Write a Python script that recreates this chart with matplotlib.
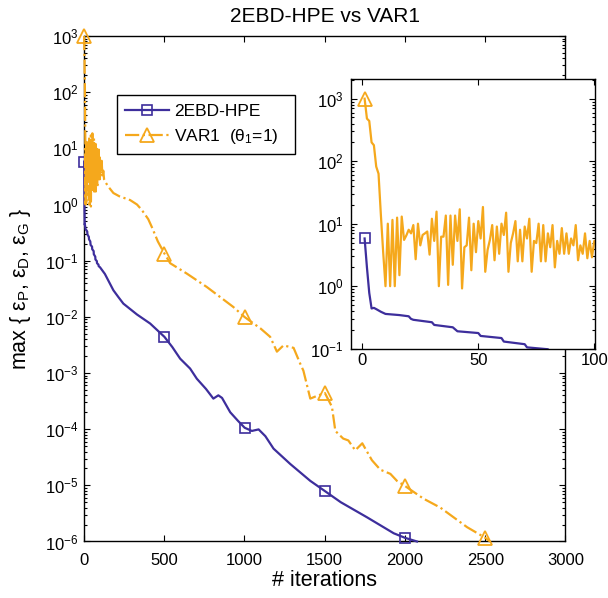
import numpy as np
import matplotlib
matplotlib.use("Agg")
import matplotlib.pyplot as plt
from matplotlib.ticker import LogLocator, NullFormatter, FixedLocator

plt.rcParams['font.family'] = ['Liberation Sans', 'DejaVu Sans']
plt.rcParams['mathtext.fontset'] = 'custom'
plt.rcParams['mathtext.rm'] = 'Liberation Sans'
plt.rcParams['mathtext.it'] = 'Liberation Sans'
plt.rcParams['mathtext.default'] = 'rm'

# --- data ------------------------------------------------------------------
# VAR1 (theta_1 = 1), one value per iteration for the first 100 iterations
var1_early = [1000, 480, 440, 200, 180, 82, 63, 14, 3.5, 1.0,
              10, 1.0, 11.5, 1.0, 12.5, 1.5, 13, 5.5, 6.5, 8,
              7, 9.5, 2.7, 10, 4.5, 6.6, 7, 7.5, 3.2, 12,
              5.3, 15.6, 1.0, 6.2, 6.2, 13.5, 1.05, 13.5, 2.2, 13.5,
              5.3, 17, 0.92, 4.2, 4.5, 12.5, 1.8, 10, 3.5, 11,
              5.8, 18.5, 1.7, 3.8, 5.5, 9.5, 2.6, 9, 3.3, 10,
              6.6, 15, 1.7, 4.9, 7, 11, 2.5, 8, 2.5, 9,
              5.8, 12, 1.7, 5.3, 4.9, 10, 2.5, 9.5, 2.5, 7,
              4.2, 9.5, 2.0, 5.3, 3.3, 8.5, 3.3, 7, 3.3, 5.8,
              4.5, 9.5, 2.6, 4.5, 3.3, 7, 2.8, 5.3, 2.9, 5.3]
# VAR1 after iteration 100 (sampled breakpoints)
var1_tail_iter = [105, 110, 115, 120, 125, 130, 150, 183, 220, 287, 330, 360,
                  400, 422, 460, 501, 537, 640, 765, 848, 930, 1001, 1100,
                  1160, 1202, 1243, 1306, 1347, 1367, 1410, 1460, 1501, 1545,
                  1566, 1615, 1647, 1690, 1734, 1794, 1846, 1909, 1950, 2001,
                  2115, 2221, 2387, 2501, 2530]
var1_tail = [3.5, 6, 3, 4, 2.8, 2.6, 2.1, 1.6, 1.4, 1.2, 1.0, 0.8,
             0.55, 0.4, 0.22, 0.134, 0.09, 0.059, 0.034, 0.0225, 0.015, 0.0099,
             0.0062, 0.0044, 0.0024, 0.0031, 0.0028, 0.00147, 0.0011, 3.5e-4,
             4.0e-4, 4.4e-4, 2.5e-4, 9.3e-5, 6.8e-5, 6.3e-5, 4.2e-5, 5.6e-5,
             2.8e-5, 1.9e-5, 1.6e-5, 1.2e-5, 9.7e-6, 5.8e-6, 4.0e-6, 1.8e-6,
             1.16e-6, 1.0e-6]

# 2EBD-HPE (sampled breakpoints)
hpe_iter = [1, 2, 3, 4, 5, 6, 8, 10, 16, 20, 21, 22, 30, 31, 39, 41, 50, 51,
            60, 61, 70, 71, 80, 81, 90, 91, 100, 130, 183, 214, 245, 330, 412,
            501, 550, 599, 661, 703, 760, 806, 837, 860, 911, 960, 1001, 1046,
            1088, 1130, 1181, 1285, 1410, 1501, 1600, 1763, 1930, 2001, 2075]
hpe_vals = [5.8, 2.0, 0.78, 0.44, 0.45, 0.43, 0.39, 0.36, 0.345, 0.33, 0.3,
            0.29, 0.265, 0.24, 0.22, 0.19, 0.178, 0.16, 0.148, 0.13, 0.118,
            0.105, 0.098, 0.09, 0.085, 0.08, 0.076, 0.058, 0.0297, 0.0225,
            0.0172, 0.011, 0.0076, 0.0044, 0.0029, 0.0018, 0.0012, 7.9e-4,
            5.2e-4, 3.5e-4, 4.0e-4, 3.6e-4, 2.0e-4, 1.4e-4, 1.06e-4, 9.3e-5,
            9.9e-5, 7.5e-5, 4.5e-5, 2.4e-5, 1.2e-5, 7.9e-6, 5.0e-6, 2.7e-6,
            1.4e-6, 1.16e-6, 1.0e-6]

mark_iters = [1, 501, 1001, 1501, 2001, 2501]
x_ticks = [0, 500, 1000, 1500, 2000, 2500, 3000]
inset_x_ticks = [0, 50, 100]

blue = '#3d2e9c'
orange = '#f5a81c'

var1_iter = np.concatenate([np.arange(1, len(var1_early) + 1), var1_tail_iter])
var1_vals = np.concatenate([var1_early, var1_tail])
hpe_iter = np.array(hpe_iter)
hpe_vals = np.array(hpe_vals)

var1_marks = [i for i, k in enumerate(var1_iter) if k in mark_iters]
hpe_marks = [i for i, k in enumerate(hpe_iter) if k in mark_iters]


def style_axes(ax, fs):
    ax.tick_params(which='both', direction='in', top=True, right=True,
                   labelsize=fs, width=0.8)
    ax.tick_params(which='major', length=4.5)
    ax.tick_params(which='minor', length=2.2)
    ax.yaxis.set_minor_locator(LogLocator(base=10, subs=np.arange(2, 10), numticks=20))
    ax.yaxis.set_minor_formatter(NullFormatter())
    for s in ax.spines.values():
        s.set_linewidth(1.0)


fig = plt.figure(figsize=(6.08, 5.98), dpi=100)
ax = fig.add_axes([0.1382, 0.0945, 0.7918, 0.8453])

ax.plot(hpe_iter, hpe_vals, '-', color=blue, lw=1.6, marker='s', ms=7,
        mfc='none', mew=1.2, markevery=hpe_marks, clip_on=False,
        label='2EBD-HPE', zorder=3)
ax.plot(var1_iter, var1_vals, '-.', color=orange, lw=1.6, marker='^', ms=9.5,
        mfc='none', mew=1.3, markevery=var1_marks, clip_on=False,
        label=r'VAR1  ($θ_1$=1)', zorder=3)

ax.set_yscale('log')
ax.set_xlim(0, 3000)
ax.set_ylim(1e-6, 1e3)
ax.xaxis.set_major_locator(FixedLocator(x_ticks))
ax.yaxis.set_major_locator(LogLocator(base=10, numticks=20))
style_axes(ax, 12)
ax.tick_params(axis='x', pad=8)
ax.tick_params(axis='y', pad=4)

ax.set_title('2EBD-HPE vs VAR1', fontsize=15, pad=10)
ax.set_xlabel('# iterations', fontsize=15.5)
ax.xaxis.set_label_coords(0.5, -0.056)
ax.set_ylabel(r'max { $ε_P$, $ε_D$, $ε_G$ }', fontsize=15.5)
ax.yaxis.set_label_coords(-0.106, 0.5)

leg = ax.legend(loc='upper left', bbox_to_anchor=(0.068, 0.764, 0.37, 0.119),
                mode='expand', borderaxespad=0, fontsize=12.5, fancybox=False,
                edgecolor='black', framealpha=1, handlelength=2.5,
                handletextpad=0.3, labelspacing=0.45, borderpad=0.5)
leg.get_frame().set_linewidth(1.0)

# inset with the first 100 iterations
axi = fig.add_axes([0.5768, 0.4169, 0.4018, 0.451])
axi.plot(hpe_iter, hpe_vals, '-', color=blue, lw=1.6, marker='s', ms=7,
         mfc='none', mew=1.2, markevery=[0])
axi.plot(var1_iter, var1_vals, '-', color=orange, lw=1.6, marker='^', ms=9.5,
         mfc='none', mew=1.3, markevery=[0])
axi.set_yscale('log')
axi.set_xlim(-5, 100.3)
axi.set_ylim(1e-1, 2065)
axi.xaxis.set_major_locator(FixedLocator(inset_x_ticks))
axi.yaxis.set_major_locator(LogLocator(base=10, numticks=20))
style_axes(axi, 12)
axi.tick_params(axis='x', pad=3)
axi.tick_params(axis='y', pad=5)

fig.savefig('out.png', dpi=100)
